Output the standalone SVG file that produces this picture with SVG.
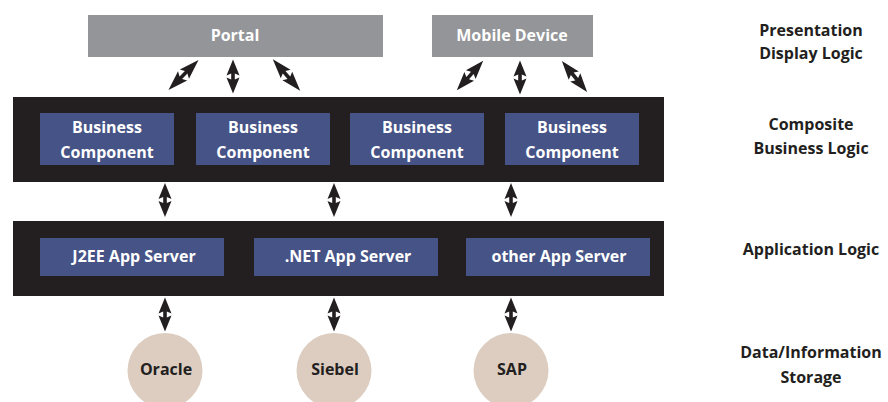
<svg xmlns="http://www.w3.org/2000/svg" xmlns:xlink="http://www.w3.org/1999/xlink" width="888" height="402" viewBox="0 0 888 402">
<style>
text{font-family:"Open Sans","Liberation Sans",sans-serif;font-weight:bold;font-size:16px;text-anchor:middle;dominant-baseline:central}
.gray{fill:#939598}
.band{fill:#231f20}
.blue{fill:#465386}
.db{fill:#dccdc0}
.w{fill:#ffffff}
.k{fill:#231f20}
.arr{fill:#231f20}
</style>
<defs>
<path id="dbl" d="M0,-17 L6.5,-1 L1.8,-3 L1.8,3 L6.5,1 L0,17 L-6.5,1 L-1.8,3 L-1.8,-3 L-6.5,-1 Z"/>
</defs>
<g id="portal"><rect class="gray" x="88" y="15" width="295" height="42"/><text class="w" x="235" y="35">Portal</text></g>
<g id="mobile"><rect class="gray" x="432" y="15" width="161" height="42"/><text class="w" x="512" y="35">Mobile Device</text></g>
<g id="composite-band"><rect class="band" x="13" y="97" width="651" height="85"/></g>
<g id="bc1"><rect class="blue" x="40" y="113" width="134" height="52"/><text class="w" x="107" y="127">Business</text><text class="w" x="107" y="152">Component</text></g>
<g id="bc2"><rect class="blue" x="196" y="113" width="134" height="52"/><text class="w" x="263" y="127">Business</text><text class="w" x="263" y="152">Component</text></g>
<g id="bc3"><rect class="blue" x="350" y="113" width="134" height="52"/><text class="w" x="417" y="127">Business</text><text class="w" x="417" y="152">Component</text></g>
<g id="bc4"><rect class="blue" x="505" y="113" width="134" height="52"/><text class="w" x="572" y="127">Business</text><text class="w" x="572" y="152">Component</text></g>
<g id="app-band"><rect class="band" x="13" y="221" width="651" height="75"/></g>
<g id="j2ee"><rect class="blue" x="40" y="238" width="184" height="38"/><text class="w" x="134" y="256">J2EE App Server</text></g>
<g id="net"><rect class="blue" x="254" y="238" width="184" height="38"/><text class="w" x="348" y="256">.NET App Server</text></g>
<g id="other"><rect class="blue" x="466" y="238" width="184" height="38"/><text class="w" x="559" y="256">other App Server</text></g>
<g id="oracle"><circle class="db" cx="165" cy="370.5" r="37.5"/><text class="k" x="166" y="369">Oracle</text></g>
<g id="siebel"><circle class="db" cx="334" cy="370.5" r="37.5"/><text class="k" x="335" y="369">Siebel</text></g>
<g id="sap"><circle class="db" cx="511" cy="370.5" r="37.5"/><text class="k" x="512" y="369">SAP</text></g>
<g id="labels" class="k">
<text class="k" x="811" y="30">Presentation</text><text class="k" x="811" y="53">Display Logic</text>
<text class="k" x="811" y="124">Composite</text><text class="k" x="811" y="148">Business Logic</text>
<text class="k" x="811" y="249">Application Logic</text>
<text class="k" x="811" y="352">Data/Information</text><text class="k" x="811" y="377">Storage</text>
</g>
<g id="connectors" class="arr">
<use xlink:href="#dbl" transform="translate(183.5,75) rotate(45) scale(1,1.25)"/>
<use xlink:href="#dbl" transform="translate(233,76.5)"/>
<use xlink:href="#dbl" transform="translate(286.5,75) rotate(-41) scale(1,1.23)"/>
<use xlink:href="#dbl" transform="translate(470,75.5) rotate(42) scale(1,1.16)"/>
<use xlink:href="#dbl" transform="translate(520,77.5)"/>
<use xlink:href="#dbl" transform="translate(574.5,76.5) rotate(-39) scale(1,1.18)"/>
<use xlink:href="#dbl" transform="translate(165,200)"/>
<use xlink:href="#dbl" transform="translate(334,200)"/>
<use xlink:href="#dbl" transform="translate(511,200)"/>
<use xlink:href="#dbl" transform="translate(165,314.5)"/>
<use xlink:href="#dbl" transform="translate(334,314.5)"/>
<use xlink:href="#dbl" transform="translate(511,314.5)"/>
</g>
</svg>
